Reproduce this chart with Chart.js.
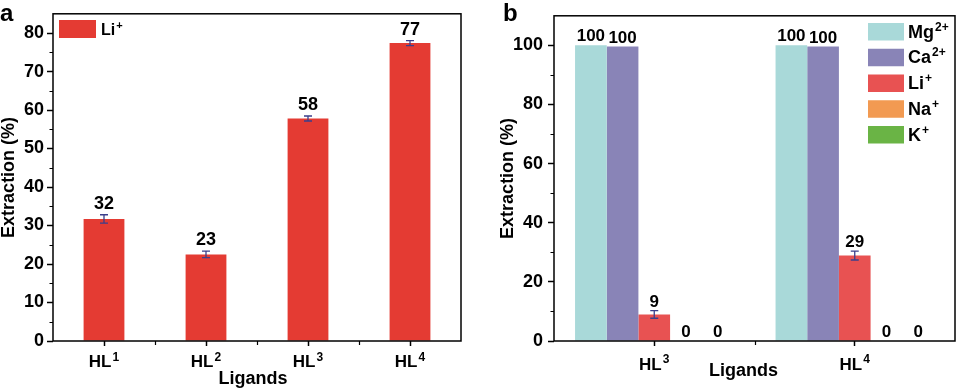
<!DOCTYPE html>
<html><head><meta charset="utf-8">
<script src="https://cdn.jsdelivr.net/npm/chart.js@4.4.1/dist/chart.umd.min.js"></script>
<style>
body{margin:0;background:#fff;width:957px;height:390px;overflow:hidden;position:relative;font-family:'Liberation Sans',Arial,sans-serif;}
.p{position:absolute;top:0;}
.lbl{position:absolute;font-weight:bold;font-size:24px;line-height:1;color:#000;}
</style></head><body>
<div class="p" style="left:0;width:480px;height:390px"><canvas id="ca" width="480" height="390"></canvas></div>
<div class="p" style="left:480px;width:477px;height:390px"><canvas id="cb" width="477" height="390"></canvas></div>
<div class="lbl" style="left:0;top:1px">a</div>
<div class="lbl" style="left:503px;top:1px">b</div>
<script>
// ---------- data ----------
const categoriesA = ['HL¹','HL²','HL³','HL⁴'];
const seriesA_Li = [31.7, 22.5, 57.8, 77.4];
const errorsA_Li = [1.1, 0.85, 0.65, 0.65];
const yTicksA = [0, 10, 20, 30, 40, 50, 60, 70, 80];

const categoriesB = ['HL³','HL⁴'];
const seriesB_Mg = [100, 100];
const seriesB_Ca = [99.6, 99.6];
const seriesB_Li = [9.0, 28.9];
const errorsB_Li = [1.3, 1.5];
const seriesB_Na = [0, 0];
const seriesB_K  = [0, 0];
const yTicksB = [0, 20, 40, 60, 80, 100];

const seriesNamesB = ['Mg²⁺','Ca²⁺','Li⁺','Na⁺','K⁺'];
// ---------- style ----------
const FONT = "'Liberation Sans', Arial, sans-serif";
Chart.defaults.font.family = FONT;
Chart.defaults.font.weight = 'bold';
Chart.defaults.color = '#000';

const SUP = {'⁰':'0','¹':'1','²':'2','³':'3','⁴':'4','⁵':'5','⁶':'6','⁷':'7','⁸':'8','⁹':'9','⁺':'+','⁻':'−'};
function splitSup(text){
  let base='', sup='';
  for (const ch of text){ if (SUP[ch]) sup += SUP[ch]; else base += ch; }
  return [base, sup];
}
function drawSupText(ctx, text, x, y, size, supSize, rise, center){
  const [base, sup] = splitSup(text);
  ctx.textAlign='left'; ctx.textBaseline='alphabetic';
  ctx.fillStyle='#000';
  ctx.font = `bold ${size}px ${FONT}`;
  const w = ctx.measureText(base).width;
  ctx.font = `bold ${supSize}px ${FONT}`;
  const ws = ctx.measureText(sup).width;
  let x0 = center ? x - (w + 1 + ws) / 2 : x;
  ctx.font = `bold ${size}px ${FONT}`;
  ctx.fillText(base, x0, y);
  ctx.font = `bold ${supSize}px ${FONT}`;
  ctx.fillText(sup, x0 + w + 1, y - rise);
}

const extrasPlugin = {
  id: 'extras',
  afterDatasetsDraw(chart, args, o){
    const ctx = chart.ctx, ys = chart.scales.y;
    // error bars
    chart.data.datasets.forEach((ds, i) => {
      if (!ds.errors) return;
      const meta = chart.getDatasetMeta(i);
      meta.data.forEach((el, j) => {
        const v = ds.data[j], e = ds.errors[j];
        const y1 = ys.getPixelForValue(v + e), y2 = ys.getPixelForValue(v - e);
        ctx.save();
        ctx.strokeStyle = '#3b3f8c'; ctx.lineWidth = 1.3;
        ctx.beginPath();
        ctx.moveTo(el.x, y1); ctx.lineTo(el.x, y2);
        ctx.moveTo(el.x - 4, y1); ctx.lineTo(el.x + 4, y1);
        ctx.moveTo(el.x - 4, y2); ctx.lineTo(el.x + 4, y2);
        ctx.stroke(); ctx.restore();
      });
    });
    // data labels
    chart.data.datasets.forEach((ds, i) => {
      const meta = chart.getDatasetMeta(i);
      meta.data.forEach((el, j) => {
        const v = ds.data[j], e = ds.errors ? ds.errors[j] : 0;
        const top = ys.getPixelForValue(v + e);
        ctx.save();
        ctx.font = `bold ${o.labelSize}px ${FONT}`;
        ctx.fillStyle = '#000'; ctx.textAlign = 'center'; ctx.textBaseline = 'alphabetic';
        ctx.fillText(String(Math.round(v)), el.x, top - o.labelGap);
        ctx.restore();
      });
    });
  },
  afterDraw(chart, args, o){
    const ctx = chart.ctx, a = chart.chartArea, ys = chart.scales.y, xs = chart.scales.x;
    ctx.save();
    ctx.strokeStyle = '#000'; ctx.lineWidth = 1.5;
    ctx.strokeRect(a.left, a.top, a.right - a.left, a.bottom - a.top);
    // minor y ticks
    ctx.lineWidth = 1.2;
    ctx.beginPath();
    for (let v = o.minorStep; v < ys.max; v += o.minorStep * 2) {
      const y = Math.round(ys.getPixelForValue(v)) + 0.5;
      ctx.moveTo(a.left, y); ctx.lineTo(a.left - 3.5, y);
    }
    // x boundary ticks
    const n = chart.data.labels.length;
    for (let i = 0; i < n - 1; i++) {
      const x = Math.round(xs.getPixelForValue(i + 0.5)) + 0.5;
      ctx.moveTo(x, a.bottom); ctx.lineTo(x, a.bottom + 4);
    }
    ctx.stroke();
    // x category labels with superscripts
    chart.data.labels.forEach((lab, i) => {
      drawSupText(ctx, lab, xs.getPixelForValue(i), o.xLabel.baseline, o.xLabel.size, o.xLabel.supSize, o.xLabel.rise, true);
    });
    // x axis title
    const T = o.xTitle;
    ctx.font = `bold ${T.size}px ${FONT}`;
    ctx.fillStyle = '#000'; ctx.textAlign = 'center'; ctx.textBaseline = 'alphabetic';
    ctx.fillText(T.text, (a.left + a.right) / 2 + T.dx, T.baseline);
    // legend
    const L = o.legend;
    chart.data.datasets.forEach((ds, i) => {
      const top = L.y + i * L.rowH;
      ctx.fillStyle = ds.backgroundColor;
      ctx.fillRect(L.x, top, L.boxW, L.boxH);
      drawSupText(ctx, ds.label, L.x + L.boxW + L.gap, top + L.boxH - 3, L.size, L.supSize, L.rise, false);
    });
    ctx.restore();
  }
};

function yAxis(ticksList, max, width, labelPad, titlePad){
  return {
    type: 'linear', min: 0, max: max,
    afterBuildTicks(s){ s.ticks = ticksList.map(v => ({value: v})); },
    afterFit(s){ s.width = width; },
    ticks: { font: {size: 18, weight: 'bold'}, color: '#000', padding: labelPad },
    grid: { drawOnChartArea: false, drawTicks: true, tickLength: 6, tickColor: '#000', tickWidth: 1.5 },
    border: { display: false },
    title: { display: true, text: 'Extraction (%)', font: {size: 18, weight: 'bold', lineHeight: 1}, color: '#000', padding: {top: titlePad, bottom: 0} }
  };
}
function xAxis(height){
  return {
    type: 'category',
    afterFit(s){ s.height = height; },
    ticks: { display: false },
    grid: { offset: false, drawOnChartArea: false, drawTicks: true, tickLength: 5, tickColor: '#000', tickWidth: 1.5 },
    border: { display: false },
    title: { display: false }
  };
}

new Chart(document.getElementById('ca'), {
  type: 'bar',
  data: {
    labels: categoriesA,
    datasets: [{ label: 'Li⁺', data: seriesA_Li, errors: errorsA_Li, backgroundColor: '#e43b33',
      barPercentage: 0.4, categoryPercentage: 1 }]
  },
  options: {
    responsive: false, animation: false, events: [],
    layout: { padding: { left: 0, right: 19, top: 12, bottom: 0 } },
    scales: { x: xAxis(49), y: yAxis(yTicksA, 85, 53, 3, 0) },
    plugins: {
      legend: { display: false }, tooltip: { enabled: false },
      extras: { minorStep: 5, labelSize: 18, labelGap: 6,
        xLabel: { baseline: 366.5, size: 17, supSize: 12, rise: 6 },
        xTitle: { text: 'Ligands', size: 18, baseline: 383.5, dx: -4 },
        legend: { x: 59, y: 20, rowH: 26, boxW: 37, boxH: 18, gap: 5, size: 16, supSize: 11, rise: 6 } }
    }
  },
  plugins: [extrasPlugin]
});

const colorsB = ['#a9d9d9', '#8984b7', '#e85252', '#f29a52', '#6ab445'];
const seriesB = [seriesB_Mg, seriesB_Ca, seriesB_Li, seriesB_Na, seriesB_K];
new Chart(document.getElementById('cb'), {
  type: 'bar',
  data: {
    labels: categoriesB,
    datasets: seriesB.map((d, i) => ({
      label: seriesNamesB[i], data: d, backgroundColor: colorsB[i],
      errors: i === 2 ? errorsB_Li : null,
      barPercentage: 1, categoryPercentage: 0.79
    }))
  },
  options: {
    responsive: false, animation: false, events: [],
    layout: { padding: { left: 19.5, right: 2, top: 13, bottom: 0 } },
    scales: { x: xAxis(49), y: yAxis(yTicksB, 110, 54.5, 5, 0) },
    plugins: {
      legend: { display: false }, tooltip: { enabled: false },
      extras: { minorStep: 10, labelSize: 17, labelGap: 4,
        xLabel: { baseline: 370, size: 17, supSize: 12, rise: 7 },
        xTitle: { text: 'Ligands', size: 18, baseline: 375.5, dx: -11 },
        legend: { x: 388, y: 23, rowH: 25.75, boxW: 36, boxH: 17.5, gap: 4, size: 18, supSize: 12, rise: 7 } }
    }
  },
  plugins: [extrasPlugin]
});
</script>
</body></html>
